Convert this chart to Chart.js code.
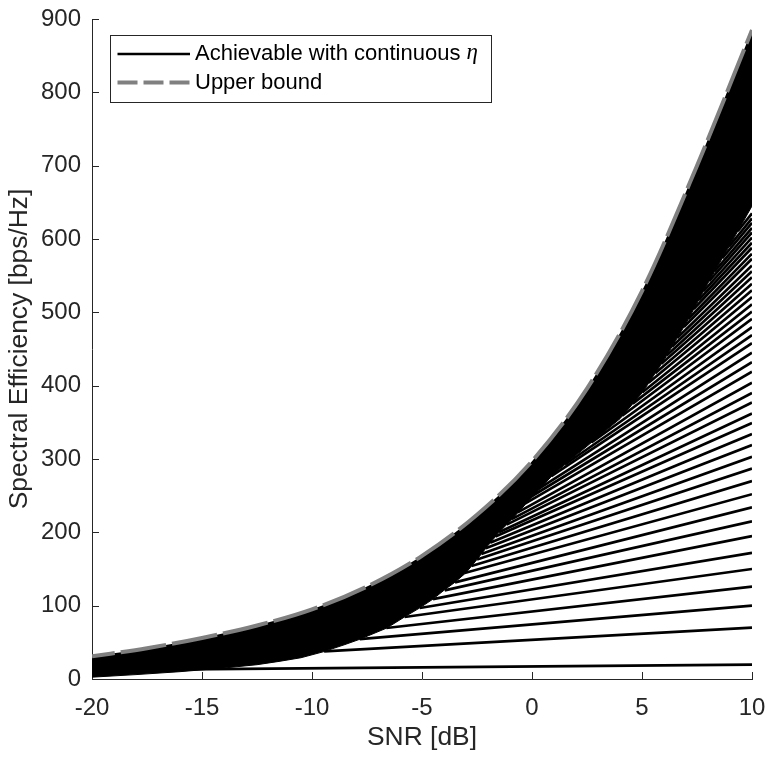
<!DOCTYPE html>
<html>
<head>
<meta charset="utf-8">
<title>Spectral Efficiency vs SNR</title>
<script src="https://cdn.jsdelivr.net/npm/chart.js@4.4.1/dist/chart.umd.min.js"></script>
<style>
  html, body { margin: 0; padding: 0; background: #fff; }
  #grafico { display: block; }
</style>
</head>
<body>
<canvas id="grafico" width="781" height="759"></canvas>
<script>
// Cota superior (curva gris discontinua), leida cada 2.5 dB
const snrCota = [-20, -17.5, -15, -12.5, -10, -7.5, -5, -2.5, 0, 2.5, 5, 7.5, 10];
const cotaSuperior = [31, 42, 56, 73, 95, 126, 168, 224, 297, 396, 529, 700, 885];

// Borde inferior de la banda negra solida
const snrBorde = [-20, -18, -16, -15, -14, -12.5, -11.5, -10.5, -9.5, -8.5, -7.8, -6.6, -5.8, -5.1, -4.5, -4,
  -3.5, -3, -2.5, -2, -1.5, -1, 0, 1, 2, 3, 4, 5, 6, 7, 8, 9, 10];
const seBorde = [2.5, 6, 10, 12.5, 15, 19.5, 24, 29, 37, 47, 54.5, 69.5, 84.5, 97, 109, 121,
  132, 145, 163, 182, 200, 215, 248, 280, 305, 330, 355, 390, 435, 485, 540, 592, 645];

// Lineas alcanzables: punto donde salen de la banda y valor final a 10 dB
const snrSalida = [-20, -9.45, -7.83, -6.62, -5.79, -5.1, -4.5, -3.97, -3.5, -3.06,
  -2.75, -2.5, -2.3, -2.1, -1.9, -1.66, -1.5, -1.15, -0.92, -0.65,
  -0.3, -0.05, 0.3, 0.88, 1.5, 2.7, 4.1, 4.58, 5.02, 5.3,
  5.6, 5.88, 6.12, 6.36, 6.6, 6.9, 7.1, 7.35, 7.58, 7.8,
  8.05, 8.3, 8.65, 8.95, 9.35];
const seSalida = [12, 37.7, 54.5, 69.5, 84.5, 96.8, 109, 120.8, 131.7, 144.5,
  154, 163, 170.4, 178.3, 185.7, 194.3, 200, 210.5, 218, 227.2,
  239.5, 248.5, 259.3, 276.5, 292.5, 322.5, 359, 375.5, 391, 404,
  417, 430, 441, 453, 465, 480, 491, 504.5, 516.8, 529,
  542.6, 555.7, 573.8, 589.6, 610.6];
const seFinal = [19.5, 70, 100, 126, 150, 172, 195, 215, 234, 252,
  270, 287, 303, 319, 334, 349, 362, 377, 390, 404,
  419, 432, 445, 458, 469, 480, 491, 501, 511, 521,
  530, 539, 548, 556, 564, 573, 580, 588, 595, 602,
  609, 615, 622, 628, 635];

const colorEjes = '#262626';
Chart.defaults.font.family = '"Liberation Sans", Arial, Helvetica, sans-serif';
Chart.defaults.color = colorEjes;

// datasets: cota (encima de todo, rellena la banda), borde, lineas
const datasets = [
  {
    label: 'Upper bound',
    data: snrCota.map((x, i) => ({ x, y: cotaSuperior[i] })),
    borderColor: '#808080',
    borderWidth: 4,
    borderDash: [46, 6],
    borderDashOffset: 23,
    cubicInterpolationMode: 'monotone',
    backgroundColor: '#000',
    fill: { target: 1 },
    pointRadius: 0,
    order: 0,
  },
  {
    label: '',
    data: snrBorde.map((x, i) => ({ x, y: seBorde[i] })),
    borderColor: '#000',
    borderWidth: 1,
    pointRadius: 0,
    fill: false,
    order: 2,
  },
  ...snrSalida.map((x0, i) => ({
    label: i === 0 ? 'Achievable with continuous η' : '',
    data: [{ x: x0, y: seSalida[i] }, { x: 10, y: seFinal[i] }],
    borderColor: '#000',
    borderWidth: 2.7,
    pointRadius: 0,
    fill: false,
    order: 1,
  })),
];

// marcas de los ejes hacia dentro, como en MATLAB
const marcasInternas = {
  id: 'marcasInternas',
  beforeDatasetsDraw(chart) {
    const { ctx, chartArea, scales } = chart;
    ctx.save();
    ctx.strokeStyle = colorEjes;
    ctx.lineWidth = 1;
    ctx.beginPath();
    scales.x.ticks.forEach((t) => {
      const px = Math.round(scales.x.getPixelForValue(t.value)) + 0.5;
      ctx.moveTo(px, chartArea.bottom);
      ctx.lineTo(px, chartArea.bottom - 7);
    });
    scales.y.ticks.forEach((t) => {
      const py = Math.round(scales.y.getPixelForValue(t.value)) + 0.5;
      ctx.moveTo(chartArea.left, py);
      ctx.lineTo(chartArea.left + 7, py);
    });
    ctx.stroke();
    ctx.restore();
  },
};

// leyenda con recuadro dentro del area del grafico
const leyenda = {
  id: 'leyenda',
  afterDraw(chart) {
    const { ctx, chartArea } = chart;
    const x0 = Math.round(chartArea.left + 18) + 0.5;
    const y0 = Math.round(chartArea.top + 16) + 0.5;
    const fuente = '22px "Liberation Sans", Arial, sans-serif';
    const fuenteEta = 'italic 23px "Liberation Serif", "DejaVu Serif", serif';
    const texto1 = 'Achievable with continuous ';
    ctx.save();
    ctx.font = fuente;
    const ancho1 = ctx.measureText(texto1).width;
    const ancho2 = ctx.measureText('Upper bound').width;
    ctx.font = fuenteEta;
    const anchoEta = ctx.measureText('η').width;
    const xTexto = x0 + 84.5;
    const anchoCaja = Math.round(84.5 + Math.max(ancho1 + anchoEta, ancho2) + 14);
    const altoCaja = 67;

    ctx.fillStyle = '#fff';
    ctx.fillRect(x0, y0, anchoCaja, altoCaja);
    ctx.strokeStyle = colorEjes;
    ctx.lineWidth = 1;
    ctx.strokeRect(x0, y0, anchoCaja, altoCaja);

    const fila1 = y0 + 18.5;
    const fila2 = y0 + 47;

    ctx.lineWidth = 2.7;
    ctx.strokeStyle = '#000';
    ctx.beginPath();
    ctx.moveTo(x0 + 7, fila1);
    ctx.lineTo(x0 + 79.5, fila1);
    ctx.stroke();

    ctx.lineWidth = 4;
    ctx.strokeStyle = '#808080';
    ctx.setLineDash([20, 6]);
    ctx.beginPath();
    ctx.moveTo(x0 + 7, fila2);
    ctx.lineTo(x0 + 79.5, fila2);
    ctx.stroke();
    ctx.setLineDash([]);

    ctx.fillStyle = '#000';
    ctx.textBaseline = 'middle';
    ctx.textAlign = 'left';
    ctx.font = fuente;
    ctx.fillText(texto1, xTexto, fila1);
    ctx.fillText('Upper bound', xTexto, fila2);
    ctx.font = fuenteEta;
    ctx.fillText('η', xTexto + ancho1, fila1 - 1);
    ctx.restore();
  },
};

const config = {
  type: 'line',
  data: { datasets },
  options: {
    responsive: false,
    animation: false,
    layout: { padding: { top: 19, right: 29, left: 0, bottom: 0 } },
    plugins: {
      legend: { display: false },
      tooltip: { enabled: false },
    },
    scales: {
      x: {
        type: 'linear',
        min: -20,
        max: 10,
        ticks: { stepSize: 5, font: { size: 24 }, color: colorEjes, padding: 15, maxRotation: 0 },
        grid: { drawOnChartArea: false, drawTicks: false },
        border: { display: true, color: colorEjes, width: 1 },
        title: { display: true, text: 'SNR [dB]', font: { size: 26.4 }, color: colorEjes, padding: { top: 0, bottom: 5 } },
        afterFit: (scale) => { scale.height = 80; },
      },
      y: {
        min: 0,
        max: 900,
        // lineHeight corto para que la etiqueta 900 no empuje el area hacia abajo
        ticks: { stepSize: 100, font: { size: 24, lineHeight: 0.6 }, color: colorEjes, padding: 11 },
        grid: { drawOnChartArea: false, drawTicks: false },
        border: { display: true, color: colorEjes, width: 1 },
        title: { display: true, text: 'Spectral Efficiency [bps/Hz]', font: { size: 26.4 }, color: colorEjes, padding: { top: 4, bottom: 0 } },
        afterFit: (scale) => { scale.width = 92; },
      },
    },
  },
  plugins: [marcasInternas, leyenda],
};

const grafico = new Chart(document.getElementById('grafico'), config);
</script>
</body>
</html>
